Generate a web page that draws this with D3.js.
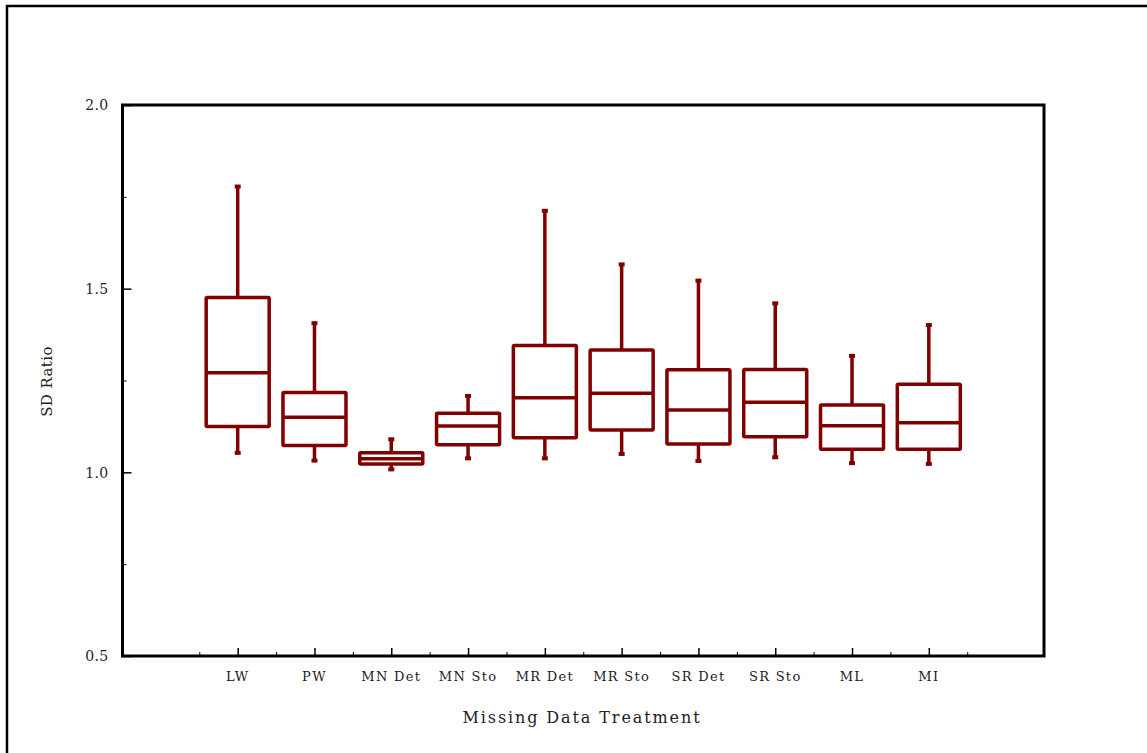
<!DOCTYPE html>
<html>
<head>
<meta charset="utf-8">
<script src="https://cdn.jsdelivr.net/npm/d3@7"></script>
<style>
  html, body { margin: 0; padding: 0; background: #fff; }
  svg { display: block; }
  text { font-family: "DejaVu Serif", "Liberation Serif", serif; fill: #222; }
</style>
</head>
<body>
<svg id="chart" width="1147" height="753"></svg>
<script>
// Missing-data treatments and the five-number summary of the SD ratio for each
const categories = ["LW", "PW", "MN Det", "MN Sto", "MR Det", "MR Sto", "SR Det", "SR Sto", "ML", "MI"];
const whiskerLow  = [1.053, 1.032, 1.008, 1.038, 1.038, 1.050, 1.031, 1.041, 1.025, 1.023];
const q1          = [1.125, 1.073, 1.023, 1.075, 1.094, 1.115, 1.077, 1.097, 1.063, 1.063];
const median      = [1.271, 1.150, 1.037, 1.126, 1.203, 1.215, 1.170, 1.191, 1.127, 1.135];
const q3          = [1.476, 1.217, 1.053, 1.161, 1.345, 1.333, 1.279, 1.280, 1.183, 1.240];
const whiskerHigh = [1.778, 1.406, 1.090, 1.208, 1.712, 1.566, 1.522, 1.460, 1.317, 1.401];
const yTicks = [0.5, 1.0, 1.5, 2.0];
const yMinorTicks = [0.75, 1.25, 1.75];

const svg = d3.select("#chart");
const plot = { left: 122.5, right: 1044, top: 105, bottom: 656 };
const color = "#800000";

// outer frame
svg.append("rect")
  .attr("x", 7).attr("y", 6).attr("width", 1300).attr("height", 900)
  .attr("fill", "none").attr("stroke", "#000").attr("stroke-width", 2.5);

const y = d3.scaleLinear().domain([0.5, 2.0]).range([plot.bottom, plot.top]);
// twelve slots along x; categories sit in slots 1..10 (centred at i + 1.5)
const x = d3.scaleLinear().domain([0, 12]).range([plot.left, plot.right]);
const cx = i => x(i + 1.5);

// y axis: ticks pointing into the plot
const yAxis = svg.append("g").attr("transform", `translate(${plot.left},0)`)
  .call(d3.axisRight(y).tickValues(yTicks).tickSize(9).tickFormat(d3.format(".1f")));
yAxis.select(".domain").remove();
yAxis.selectAll("line").attr("stroke", "#000").attr("stroke-width", 1.5);
yAxis.selectAll("text")
  .attr("x", -14).attr("dy", "0.35em").attr("text-anchor", "end")
  .style("font-size", "14px").style("letter-spacing", "0.3px");
svg.append("g").attr("transform", `translate(${plot.left},0)`)
  .call(d3.axisRight(y).tickValues(yMinorTicks).tickSize(4).tickFormat(""))
  .call(g => g.select(".domain").remove())
  .selectAll("line").attr("stroke", "#000").attr("stroke-width", 1);

// x axis: category ticks (major) and slot boundaries (minor), pointing up
const xAxis = svg.append("g").attr("transform", `translate(0,${plot.bottom})`)
  .call(d3.axisTop(x).tickValues(categories.map((c, i) => i + 1.5)).tickSize(8).tickFormat(""));
xAxis.select(".domain").remove();
xAxis.selectAll("line").attr("stroke", "#000").attr("stroke-width", 1.5);
svg.append("g").attr("transform", `translate(0,${plot.bottom})`)
  .call(d3.axisTop(x).tickValues(d3.range(1, 12)).tickSize(4).tickFormat(""))
  .call(g => g.select(".domain").remove())
  .selectAll("line").attr("stroke", "#000").attr("stroke-width", 1);

svg.append("g").selectAll("text").data(categories).join("text")
  .attr("x", (d, i) => cx(i)).attr("y", plot.bottom + 25)
  .attr("text-anchor", "middle")
  .style("font-size", "13px").style("letter-spacing", "1.3px")
  .text(d => d);

// plot frame
svg.append("rect")
  .attr("x", plot.left).attr("y", plot.top)
  .attr("width", plot.right - plot.left).attr("height", plot.bottom - plot.top)
  .attr("fill", "none").attr("stroke", "#000").attr("stroke-width", 3);

// axis titles
svg.append("text")
  .attr("transform", `translate(52,${(y(1.5) + y(1.0)) / 2 + 1}) rotate(-90)`)
  .attr("text-anchor", "middle")
  .style("font-size", "15px").style("letter-spacing", "0.4px")
  .text("SD Ratio");
svg.append("text")
  .attr("x", 582).attr("y", 723)
  .attr("text-anchor", "middle")
  .style("font-size", "16px").style("letter-spacing", "1.9px")
  .text("Missing Data Treatment");

// box plots
const boxW = 63;
const boxes = svg.append("g")
  .attr("stroke", color).attr("stroke-width", 3.5).attr("fill", "none")
  .selectAll("g").data(categories).join("g");

boxes.append("line")
  .attr("x1", (d, i) => cx(i)).attr("x2", (d, i) => cx(i))
  .attr("y1", (d, i) => y(whiskerHigh[i])).attr("y2", (d, i) => y(q3[i]));
boxes.append("line")
  .attr("x1", (d, i) => cx(i)).attr("x2", (d, i) => cx(i))
  .attr("y1", (d, i) => y(q1[i])).attr("y2", (d, i) => y(whiskerLow[i]));
// whisker caps
boxes.append("line")
  .attr("x1", (d, i) => cx(i) - 3).attr("x2", (d, i) => cx(i) + 3)
  .attr("y1", (d, i) => y(whiskerHigh[i])).attr("y2", (d, i) => y(whiskerHigh[i]))
  .attr("stroke-width", 4);
boxes.append("line")
  .attr("x1", (d, i) => cx(i) - 3).attr("x2", (d, i) => cx(i) + 3)
  .attr("y1", (d, i) => y(whiskerLow[i])).attr("y2", (d, i) => y(whiskerLow[i]))
  .attr("stroke-width", 4);
boxes.append("rect")
  .attr("x", (d, i) => cx(i) - boxW / 2).attr("width", boxW)
  .attr("y", (d, i) => y(q3[i])).attr("height", (d, i) => y(q1[i]) - y(q3[i]))
  .attr("fill", "#fff").attr("rx", 1);
boxes.append("line")
  .attr("x1", (d, i) => cx(i) - boxW / 2).attr("x2", (d, i) => cx(i) + boxW / 2)
  .attr("y1", (d, i) => y(median[i])).attr("y2", (d, i) => y(median[i]));
</script>
</body>
</html>
